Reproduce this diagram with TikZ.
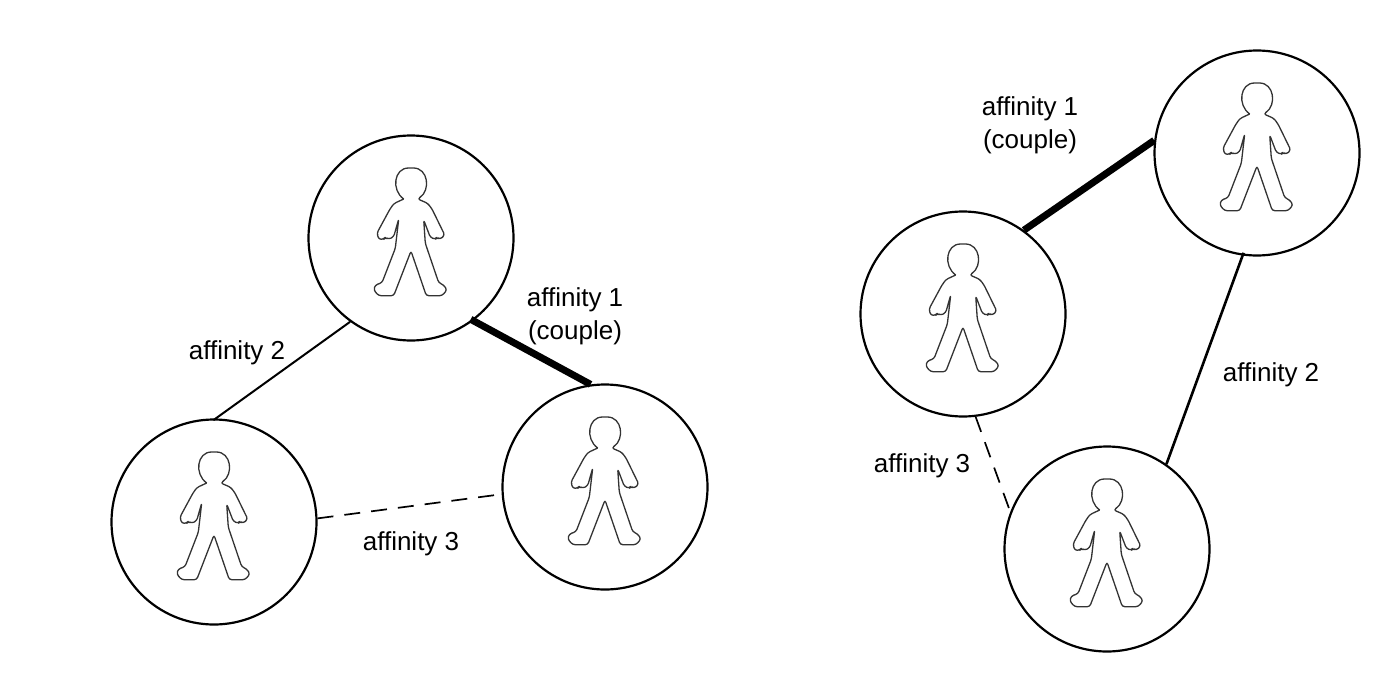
\documentclass[tikz,border=0pt]{standalone}
\usepackage{fontspec}
\setmainfont{Liberation Sans}
\usetikzlibrary{positioning}

\tikzset{
  pics/person/.style={code={
    \draw[line width=1.3pt,black!80,x=1pt,y=1pt,line join=round,rounded corners=2.5pt]
      (-7.3,39) -- (-17,34.5) -- (-21,29) -- (-34,5) -- (-32.3,-1.3) -- (-27.3,-1.3) -- (-25.7,0.7) -- (-22.3,-1.3) -- (-17.3,1.3)
      -- (-12.3,19) -- (-15.7,-10.3) -- (-29,-44.7) -- (-35.7,-47) -- (-37.3,-52) -- (-32.3,-57.7) -- (-17.3,-57.7)
      -- (0,-13) -- (15.3,-57.7) -- (31,-57.7) -- (36,-52) -- (32.7,-47) -- (27.7,-44.7) -- (14.3,-5.3) -- (12.7,18)
      -- (19.3,0.7) -- (24.3,-1.3) -- (26,0.7) -- (29.3,-1.3) -- (33.7,3) -- (21,29) -- (16.7,34.7) -- (6.7,39)
      .. controls (20,48) and (17,70) .. (0,70) .. controls (-17,70) and (-20,48) .. (-7.3,39);
  }}
}

\begin{document}
\begin{tikzpicture}[x=1pt,y=-1pt,font=\fontsize{26}{33}\selectfont]

    \tikzstyle{member}=[circle,draw,line width=2.2pt,minimum size=205pt,inner sep=0pt]
    \tikzstyle{label}=[align=center,inner sep=0pt]
    \tikzstyle{couple}=[line width=7pt]
    \tikzstyle{plain}=[line width=2pt,shorten >=-3pt]
    \tikzstyle{weak}=[line width=1.7pt,dash pattern=on 16pt off 11pt,shorten >=-3pt]

    \useasboundingbox (0,0) rectangle (1388,674);

    \node[member] (p_1) at (411,238) {};
    \node[member] (p_2) at (214,522) {};
    \node[member] (p_3) at (605,487) {};
    \node[member] (q_1) at (1257,153) {};
    \node[member] (q_2) at (963,314) {};
    \node[member] (q_3) at (1107,549) {};

    \foreach \who in {p_1,p_2,p_3,q_1,q_2,q_3}
      \pic at (\who) {person};

    \path
    (p_1.-53)  edge [couple,shorten <=-3pt] (p_3.98)
    (p_1.234)  edge [plain]  (p_2.89)
    (p_2.2)    edge [weak]   (p_3.184)
    (q_2.54)   edge [couple] (q_1.173)
    (q_1.262)  edge [plain,line width=2.6pt,shorten >=0pt,shorten <=-3pt]  (q_3.55)
    (q_2.-83)  edge [weak]   (q_3.159);

    \node[label] (a_1) at (575,316)  {affinity 1\\(couple)};
    \node[label] (a_2) at (237,353)  {affinity 2};
    \node[label] (a_3) at (411,544)  {affinity 3};
    \node[label] (b_1) at (1030,125) {affinity 1\\(couple)};
    \node[label] (b_2) at (1271,375) {affinity 2};
    \node[label] (b_3) at (922,466)  {affinity 3};
\end{tikzpicture}
\end{document}
